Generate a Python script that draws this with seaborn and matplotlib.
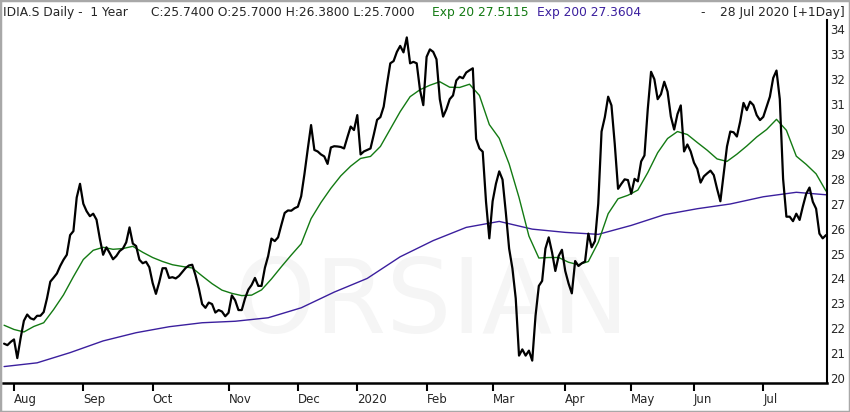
import numpy as np
import pandas as pd
import matplotlib.pyplot as plt
import seaborn as sns
from matplotlib.patches import Rectangle

# Daily closes, one list per month (SIX trading days)
close_jul19 = [21.38, 21.32, 21.45]
close_aug19 = [21.55, 20.8, 21.6, 22.3, 22.55, 22.4, 22.35, 22.5, 22.5, 22.65, 23.2,
               23.87, 24.03, 24.2, 24.5, 24.75, 24.95, 25.74, 25.9, 27.25, 27.8]
close_sep19 = [27.0, 26.7, 26.5, 26.6, 26.36, 25.6, 24.95, 25.25, 25.02, 24.77, 24.9,
               25.1, 25.2, 25.45, 26.05, 25.4, 25.3, 24.75, 24.61, 24.67, 24.45]
close_oct19 = [23.82, 23.38, 23.85, 24.41, 24.41, 24.02, 24.05, 24.0, 24.1, 24.26, 24.42,
               24.52, 24.55, 24.12, 23.6, 22.97, 22.82, 23.03, 22.97, 22.63, 22.73, 22.67, 22.48]
close_nov19 = [22.62, 23.32, 23.12, 22.73, 22.73, 23.2, 23.55, 23.74, 24.02, 23.7, 23.7,
               24.42, 24.9, 25.6, 25.5, 25.65, 26.15, 26.63, 26.73, 26.72, 26.82]
close_dec19 = [26.88, 27.3, 28.2, 29.2, 30.16, 29.16, 29.1, 28.98, 28.9, 28.6, 29.26,
               29.31, 29.3, 29.28, 29.22, 29.67, 30.1, 29.96]
close_jan20 = [30.56, 28.98, 29.1, 29.16, 29.22, 29.78, 30.37, 30.48, 30.9, 31.8, 32.64,
               32.73, 33.1, 33.34, 33.08, 33.68, 32.64, 32.7, 32.64, 31.57, 30.96]
close_feb20 = [32.9, 33.2, 33.1, 32.8, 31.2, 30.5, 30.8, 31.2, 31.35, 31.95, 32.1,
               32.04, 32.27, 32.36, 32.44, 29.6, 29.22, 29.09, 27.08, 25.61]
close_mar20 = [27.1, 27.8, 28.3, 27.97, 26.65, 25.2, 24.4, 23.2, 20.9, 21.15, 20.9,
               21.1, 20.7, 22.5, 23.7, 23.9, 25.2, 25.65, 25.05, 24.3, 24.9, 25.15]
close_apr20 = [24.3, 23.8, 23.4, 24.7, 24.5, 24.61, 24.68, 25.8, 25.25, 25.5, 27.0,
               29.9, 30.48, 31.3, 30.95, 29.4, 27.6, 27.8, 27.98, 27.95]
close_may20 = [27.4, 28.0, 27.9, 28.7, 28.94, 30.8, 32.3, 32.0, 31.2, 31.4, 31.9,
               31.5, 30.5, 29.98, 30.6, 30.95, 29.1, 29.38, 29.1]
close_jun20 = [28.65, 28.4, 27.85, 28.1, 28.22, 28.33, 28.15, 27.6, 27.1, 28.2, 29.3,
               29.9, 29.87, 29.7, 30.3, 31.05, 30.76, 31.1, 30.96, 30.56, 30.36]
close_jul20 = [30.49, 30.9, 31.3, 32.05, 32.35, 31.2, 28.0, 26.48, 26.48, 26.3, 26.6,
               26.35, 26.9, 27.4, 27.65, 27.08, 26.8, 25.8, 25.61, 25.74]

# Exp 20 read every 3 trading days, Exp 200 every 10 (+ last day)
ema20 = [22.12, 21.95, 21.85, 22.07, 22.22, 22.75, 23.34, 24.07, 24.76, 25.13,
         25.25, 25.17, 25.2, 25.29, 25.05, 24.84, 24.68, 24.55, 24.48, 24.42,
         24.1, 23.79, 23.53, 23.4, 23.31, 23.33, 23.54, 23.98, 24.47, 24.94,
         25.39, 26.4, 27.05, 27.62, 28.12, 28.51, 28.82, 28.9, 29.3, 30.0,
         30.7, 31.3, 31.58, 31.76, 31.9, 31.68, 31.67, 31.8, 31.35, 30.18,
         29.63, 28.6, 27.25, 25.7, 24.82, 24.84, 24.84, 24.65, 24.55, 24.68,
         25.45, 26.6, 27.2, 27.34, 27.55, 28.25, 29.05, 29.62, 29.9, 29.78,
         29.46, 29.15, 28.8, 28.7, 28.99, 29.32, 29.68, 29.98, 30.39, 29.95,
         28.91, 28.58, 28.2, 27.51]
ema200 = [20.46, 20.61, 21.02, 21.49, 21.82, 22.06, 22.22, 22.28, 22.42, 22.82,
          23.45, 24.0, 24.87, 25.52, 26.05, 26.29, 25.98, 25.85, 25.77, 26.13,
          26.56, 26.8, 26.99, 27.28, 27.46, 27.36]

six_holidays = ['2019-08-01', '2019-12-24', '2019-12-25', '2019-12-26', '2019-12-31',
                '2020-01-01', '2020-01-02', '2020-04-10', '2020-04-13', '2020-05-01',
                '2020-05-21', '2020-06-01']
month_labels = ['Aug', 'Sep', 'Oct', 'Nov', 'Dec', '2020', 'Feb', 'Mar', 'Apr', 'May', 'Jun', 'Jul']
y_ticks = list(range(20, 35))

days = pd.bdate_range('2019-07-29', '2020-07-28', freq='C', holidays=six_holidays)
close = np.concatenate([close_jul19, close_aug19, close_sep19, close_oct19, close_nov19,
                        close_dec19, close_jan20, close_feb20, close_mar20, close_apr20,
                        close_may20, close_jun20, close_jul20])
n = len(days)
df = pd.DataFrame({'t': np.arange(n), 'close': close})
t20 = list(range(0, n, 3))
t200 = list(range(0, n - 9, 10)) + [n - 1]

months = days.month.values
month_start = np.flatnonzero(months != np.roll(months, 1))

sns.set_style('white')
plt.rcParams['font.family'] = ['DejaVu Sans']

W, H = 850, 412
fig = plt.figure(figsize=(W / 100, H / 100), dpi=100)
ax = fig.add_axes([3 / W, (H - 383) / H, 824 / W, (383 - 20) / H])

# faint watermark
ax.text(0.52, 0.215, 'ORSIAN', transform=ax.transAxes, ha='center', va='center',
        fontsize=74, color='#f5f5f5', zorder=0)

sns.lineplot(x=t200, y=ema200, color='#3b1f9e', linewidth=1.0, ax=ax)
sns.lineplot(x=t20, y=ema20, color='#137a13', linewidth=1.0, ax=ax)
sns.lineplot(data=df, x='t', y='close', color='black', linewidth=1.6, ax=ax)

ax.set_xlim(-0.33, 249.3)
ax.set_ylim(19.8, 34.38)
ax.set_xlabel('')
ax.set_ylabel('')

for s in ['left', 'top']:
    ax.spines[s].set_visible(False)
ax.spines['right'].set_linewidth(1.5)
ax.spines['bottom'].set_linewidth(1.8)
ax.spines['right'].set_color('black')
ax.spines['bottom'].set_color('black')

ax.yaxis.tick_right()
ax.set_yticks(y_ticks)
ax.set_yticklabels([str(v) for v in y_ticks])
ax.tick_params(axis='y', length=0, pad=2.5, labelsize=8.5)

ax.set_xticks(month_start)
ax.set_xticklabels(month_labels, ha='left')
ax.tick_params(axis='x', direction='out', length=6, width=1.5, pad=1.5,
               labelsize=8.5, bottom=True, color='black')

# header line
ty = 1 - 12.5 / H
fs = 8.8
fig.text(3 / W, ty, 'IDIA.S Daily -  1 Year', fontsize=fs, va='center')
fig.text(151 / W, ty, 'C:25.7400 O:25.7000 H:26.3800 L:25.7000', fontsize=fs, va='center')
fig.text(432 / W, ty, 'Exp 20 27.5115', fontsize=fs, va='center', color='#137a13')
fig.text(537 / W, ty, 'Exp 200 27.3604', fontsize=fs, va='center', color='#3b1f9e')
fig.text(700 / W, ty, '-', fontsize=fs, va='center')
fig.text(845 / W, ty, '28 Jul 2020 [+1Day]', fontsize=fs, va='center', ha='right')

fig.patches.append(Rectangle((0, 0), 1, 1, transform=fig.transFigure, fill=False,
                             edgecolor='#a8a8a8', linewidth=2.5))

fig.savefig('out.png', dpi=100)
